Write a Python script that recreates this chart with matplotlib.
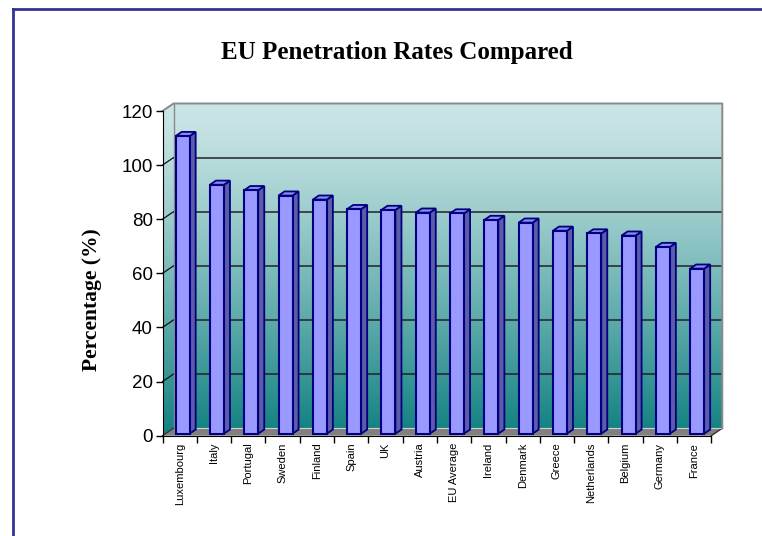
import numpy as np
import matplotlib.pyplot as plt
from matplotlib.patches import Polygon, Rectangle
from matplotlib.lines import Line2D

countries = ['Luxembourg', 'Italy', 'Portugal', 'Sweden', 'Finland', 'Spain',
             'UK', 'Austria', 'EU Average', 'Ireland', 'Denmark', 'Greece',
             'Netherlands', 'Belgium', 'Germany', 'France']
rates = [110, 92, 90, 88, 86.5, 83, 82.7, 81.7, 81.4, 79, 78, 75, 74, 73.2, 69, 61]
y_ticks = [0, 20, 40, 60, 80, 100, 120]

W, H = 762, 536
n = len(countries)

# front plane in pixels: category 0..n, value 0..120
px_left, px_right = 162.5, 711.3
px_zero, px_top = 435.7, 111.0
sx = (px_right - px_left) / n
sy = (px_zero - px_top) / 120.0

# depth of the box (back wall offset), in data units
dx = 11.0 / sx
dy = 7.5 / sy

xmin, xmax = -0.2, n + 0.6
ymin, ymax = -2.0, 125.0
ax_l = px_left + xmin * sx
ax_w = (xmax - xmin) * sx
ax_b = px_zero - ymin * sy
ax_t = px_zero - ymax * sy

fig = plt.figure(figsize=(W / 100, H / 100), dpi=100)
ax = fig.add_axes([ax_l / W, 1 - ax_b / H, ax_w / W, (ax_b - ax_t) / H])
ax.set_xlim(xmin, xmax)
ax.set_ylim(ymin, ymax)
ax.set_facecolor('none')

# walls with a light-to-teal gradient
top_c = np.array([204, 230, 230]) / 255
bot_c = np.array([16, 128, 128]) / 255
t = np.linspace(0, 1, 256) ** 1.25
grad = (top_c[None, :] * (1 - t[:, None]) + bot_c[None, :] * t[:, None])[:, None, :]
im = ax.imshow(grad, extent=(0, n + dx, 0, 120 + dy), aspect='auto',
               origin='upper', zorder=0, interpolation='bilinear')
walls = Polygon([(0, 0), (0, 120), (dx, 120 + dy), (n + dx, 120 + dy),
                 (n + dx, dy), (dx, dy)], closed=True, transform=ax.transData)
im.set_clip_path(walls)

# floor
ax.add_patch(Polygon([(0, 0), (n, 0), (n + dx, dy), (dx, dy)], closed=True,
                     facecolor='#808080', edgecolor='none', zorder=1))
ax.plot([n, n + dx], [0, dy], color='#333333', lw=1, zorder=1)
ax.plot([dx, n + dx], [dy, dy], color='#d0d0d0', lw=0.8, zorder=1)

# gridlines on the back wall and the side wall
for v in y_ticks[1:-1]:
    ax.plot([dx, n + dx], [v + dy, v + dy], color='#222222', lw=1.1, zorder=1)
    ax.plot([0, dx], [v, v + dy], color='#111111', lw=0.9, zorder=1)
ax.plot([0, dx, n + dx, n + dx], [120, 120 + dy, 120 + dy, dy],
        color='#8a8a8a', lw=1.4, zorder=1)
ax.plot([dx, dx], [dy, 120 + dy], color='#8a8a8a', lw=1.0, zorder=1)
ax.plot([0, dx], [0, dy], color='#333333', lw=0.9, zorder=1)

# 3d-looking columns
bw = 14.0 / sx
f = 0.27
g = 0.55
for i, v in enumerate(rates):
    x0 = i + 0.5 - bw / 2 + f * dx
    y0 = f * dy
    ox, oy = g * dx, g * dy
    side = Polygon([(x0 + bw, y0), (x0 + bw + ox, y0 + oy),
                    (x0 + bw + ox, y0 + v + oy), (x0 + bw, y0 + v)],
                   closed=True, facecolor='#5c5ca8', edgecolor='#000080',
                   lw=1.3, zorder=3)
    top = Polygon([(x0, y0 + v), (x0 + bw, y0 + v),
                   (x0 + bw + ox, y0 + v + oy), (x0 + ox, y0 + v + oy)],
                  closed=True, facecolor='#8c8cee', edgecolor='#000080',
                  lw=1.3, zorder=3)
    front = Rectangle((x0, y0), bw, v, facecolor='#9999ff',
                      edgecolor='#000080', lw=1.5, zorder=4)
    ax.add_patch(side)
    ax.add_patch(top)
    ax.add_patch(front)

# axes
for s in ['top', 'right']:
    ax.spines[s].set_visible(False)
ax.spines['left'].set_position(('data', 0))
ax.spines['bottom'].set_position(('data', 0))
ax.spines['left'].set_bounds(0, 120)
ax.spines['bottom'].set_bounds(0, n)
ax.spines['left'].set_zorder(5)
ax.spines['bottom'].set_zorder(5)

ax.set_yticks(y_ticks)
ax.set_yticklabels([str(v) for v in y_ticks], fontsize=13.5,
                   family='Liberation Sans')
ax.tick_params(axis='y', direction='out', length=5, width=1, pad=2)

ax.set_xticks(np.arange(n + 1))
ax.set_xticklabels([])
ax.tick_params(axis='x', which='major', direction='out', length=5, width=1)
ax.set_xticks(np.arange(n) + 0.5, minor=True)
ax.set_xticklabels(countries, minor=True, rotation=90, fontsize=8,
                   family='Liberation Sans')
ax.tick_params(axis='x', which='minor', length=0, pad=5)

fig.text(397 / W, 1 - 53 / H, 'EU Penetration Rates Compared',
         ha='center', va='center', family='Liberation Serif',
         weight='bold', fontsize=18)
fig.text(92 / W, 1 - 300 / H, 'Percentage (%)', rotation=90,
         ha='center', va='center', family='Liberation Serif',
         weight='bold', fontsize=15.5)

# outer frame
fig.add_artist(Line2D([13 / W, 13 / W], [0, 1 - 9 / H], color='#333399',
                      lw=2, transform=fig.transFigure))
fig.add_artist(Line2D([13 / W, 1], [1 - 9 / H, 1 - 9 / H], color='#333399',
                      lw=2, transform=fig.transFigure))

fig.savefig('out.png', dpi=100)
